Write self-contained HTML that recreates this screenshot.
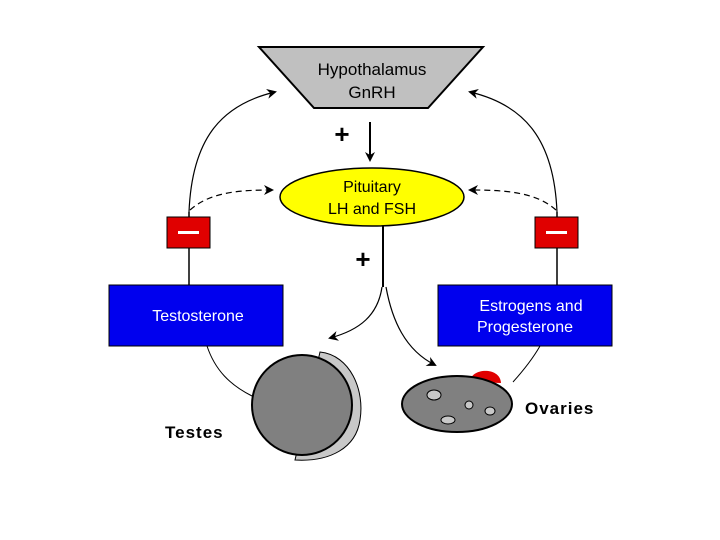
<!DOCTYPE html>
<html><head><style>body{margin:0;background:#fff}svg{display:block}</style></head><body>
<svg width="720" height="540" viewBox="0 0 720 540" xmlns="http://www.w3.org/2000/svg" font-family="Liberation Sans, sans-serif">
<defs><marker id="a" markerWidth="10" markerHeight="10" refX="8" refY="5" orient="auto" markerUnits="userSpaceOnUse"><path d="M0,0 L10,5 L0,10 L3,5 Z" fill="#000"/></marker></defs>
<polygon points="259,47 483,47 428,108 314,108" fill="#c0c0c0" stroke="#000" stroke-width="2"/>
<text x="372" y="75" font-size="17" text-anchor="middle">Hypothalamus</text>
<text x="372" y="98" font-size="17" text-anchor="middle">GnRH</text>
<line x1="370" y1="122" x2="370" y2="160" stroke="#000" stroke-width="2" marker-end="url(#a)"/>
<text x="342" y="143" font-size="26" font-weight="bold" text-anchor="middle">+</text>
<ellipse cx="372" cy="197" rx="92" ry="29" fill="#ffff00" stroke="#000" stroke-width="1.5"/>
<text x="372" y="192" font-size="16" text-anchor="middle">Pituitary</text>
<text x="372" y="214" font-size="16" text-anchor="middle">LH and FSH</text>
<path d="M189,212 L189,286" stroke="#000" stroke-width="1.5" fill="none"/>
<path d="M189,212 C192,140 220,105 275,92" stroke="#000" stroke-width="1.2" fill="none" marker-end="url(#a)"/>
<path d="M190,210 C210,192 240,190 272,190" stroke="#000" stroke-width="1.2" stroke-dasharray="6,4" fill="none" marker-end="url(#a)"/>
<path d="M557,212 L557,286" stroke="#000" stroke-width="1.5" fill="none"/>
<path d="M557,212 C554,140 525,105 470,92" stroke="#000" stroke-width="1.2" fill="none" marker-end="url(#a)"/>
<path d="M556,210 C536,192 505,190 470,190" stroke="#000" stroke-width="1.2" stroke-dasharray="6,4" fill="none" marker-end="url(#a)"/>
<rect x="167" y="217" width="43" height="31" fill="#e00000" stroke="#000"/>
<rect x="178" y="231" width="21" height="3" fill="#fff"/>
<rect x="535" y="217" width="43" height="31" fill="#e00000" stroke="#000"/>
<rect x="546" y="231" width="21" height="3" fill="#fff"/>
<line x1="383" y1="226" x2="383" y2="287" stroke="#000" stroke-width="2"/>
<text x="363" y="268" font-size="26" font-weight="bold" text-anchor="middle">+</text>
<path d="M382,287 C378,315 360,330 330,338" stroke="#000" stroke-width="1.2" fill="none" marker-end="url(#a)"/>
<path d="M386,287 C392,320 405,350 435,365" stroke="#000" stroke-width="1.2" fill="none" marker-end="url(#a)"/>
<rect x="109" y="285" width="174" height="61" fill="#0000ee" stroke="#000"/>
<text x="198" y="321" font-size="16" fill="#fff" text-anchor="middle">Testosterone</text>
<rect x="438" y="285" width="174" height="61" fill="#0000ee" stroke="#000"/>
<text x="531" y="311" font-size="16" fill="#fff" text-anchor="middle">Estrogens and</text>
<text x="525" y="332" font-size="16" fill="#fff" text-anchor="middle">Progesterone</text>
<path d="M207,346 C215,370 230,385 252,396" stroke="#000" stroke-width="1" fill="none"/>
<path d="M540,346 C532,360 522,372 513,382" stroke="#000" stroke-width="1" fill="none"/>
<path d="M320,352 C350,355 365,390 360,420 C356,448 330,462 295,460 Z" fill="#c8c8c8" stroke="#000"/>
<circle cx="302" cy="405" r="50" fill="#808080" stroke="#000" stroke-width="2"/>
<text x="165" y="438" font-size="17" font-weight="bold" letter-spacing="1">Testes</text>
<path d="M470,382 C470,368 500,366 501,383 Z" fill="#e00000"/>
<ellipse cx="457" cy="404" rx="55" ry="28" fill="#808080" stroke="#000" stroke-width="2"/>
<ellipse cx="434" cy="395" rx="7" ry="5" fill="#c8c8c8" stroke="#000"/>
<ellipse cx="469" cy="405" rx="4" ry="4" fill="#c8c8c8" stroke="#000"/>
<ellipse cx="490" cy="411" rx="5" ry="4" fill="#c8c8c8" stroke="#000"/>
<ellipse cx="448" cy="420" rx="7" ry="4" fill="#c8c8c8" stroke="#000"/>
<text x="525" y="414" font-size="17" font-weight="bold" letter-spacing="1">Ovaries</text>
</svg>
</body></html>
